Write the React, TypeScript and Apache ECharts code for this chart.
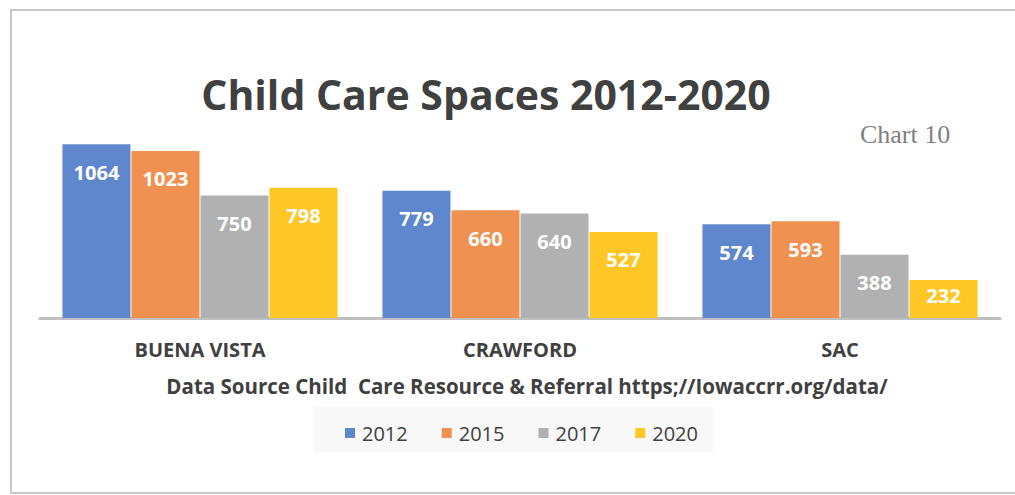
import React, { useEffect, useRef } from "react";
import * as echarts from "echarts";

const categories = ["BUENA VISTA", "CRAWFORD", "SAC"];
const years = ["2012", "2015", "2017", "2020"];
const values2012 = [1064, 779, 574];
const values2015 = [1023, 660, 593];
const values2017 = [750, 640, 388];
const values2020 = [798, 527, 232];
const seriesValues = [values2012, values2015, values2017, values2020];
const colors = ["#5F87CD", "#EF9150", "#B1B1B1", "#FFC726"];

const titleText = "Child Care Spaces 2012-2020";
const chartLabel = "Chart 10";
const sourceText = "Data Source Child  Care Resource & Referral https;//Iowaccrr.org/data/";

const Y_MAX = 1200;
const PLOT_H = 196;

export default function App() {
  const ref = useRef<HTMLDivElement>(null);
  useEffect(() => {
    if (!ref.current) return;
    const chart = echarts.init(ref.current, null, { renderer: "svg" });
    const font = "'Open Sans', 'Noto Sans', sans-serif";
    chart.setOption({
      animation: false,
      backgroundColor: "#ffffff",
      color: colors,
      grid: { left: 40, right: 15, top: 122, height: PLOT_H },
      xAxis: {
        type: "category",
        data: categories,
        axisLine: { show: true, lineStyle: { color: "#BFBFBF", width: 3 } },
        axisTick: { show: false },
        axisLabel: {
          margin: 21,
          fontFamily: font,
          fontWeight: "bold",
          fontSize: 20,
          color: "#404040",
        },
      },
      yAxis: {
        type: "value",
        min: 0,
        max: Y_MAX,
        show: false,
        splitLine: { show: false },
      },
      legend: {
        data: years,
        left: 340,
        top: 418,
        itemWidth: 10,
        itemHeight: 10,
        itemGap: 34,
        icon: "rect",
        textStyle: { fontFamily: font, fontSize: 20, color: "#404040", padding: [0, 0, 0, 2] },
      },
      graphic: [
        {
          type: "rect",
          shape: { x: 11, y: 10, width: 1020, height: 483 },
          style: { fill: "none", stroke: "#C8C8C8", lineWidth: 2 },
          z: -10,
        },
        {
          type: "rect",
          shape: { x: 313, y: 407, width: 400, height: 45 },
          style: { fill: "#F8F8F8" },
          z: -5,
        },
        {
          type: "text",
          x: 486,
          y: 94,
          style: {
            text: titleText,
            fontFamily: font,
            fontWeight: "bold",
            fontSize: 41,
            fill: "#404040",
            align: "center",
            verticalAlign: "middle",
          },
        },
        {
          type: "text",
          x: 905,
          y: 134,
          style: {
            text: chartLabel,
            fontFamily: "'Liberation Serif', 'DejaVu Serif', serif",
            fontSize: 26,
            fill: "#808080",
            align: "center",
            verticalAlign: "middle",
          },
        },
        {
          type: "text",
          x: 527,
          y: 386,
          style: {
            text: sourceText,
            fontFamily: font,
            fontWeight: "bold",
            fontSize: 20.5,
            fill: "#404040",
            align: "center",
            verticalAlign: "middle",
          },
        },
      ],
      series: years.map((y, i) => ({
        name: y,
        type: "bar",
        data: seriesValues[i].map((v) =>
          (v / Y_MAX) * PLOT_H < 50
            ? { value: v, label: { distance: 5 } }
            : v
        ),
        barWidth: 68,
        barGap: "1.5%",
        itemStyle: { color: colors[i] },
        label: {
          show: true,
          position: "insideTop",
          distance: 18,
          fontFamily: font,
          fontWeight: "bold",
          fontSize: 20,
          color: "#FFFFFF",
        },
      })),
    });
    return () => chart.dispose();
  }, []);
  return (
    <div
      ref={ref}
      style={{ position: "fixed", left: 0, top: 0, width: 1015, height: 495 }}
    />
  );
}
